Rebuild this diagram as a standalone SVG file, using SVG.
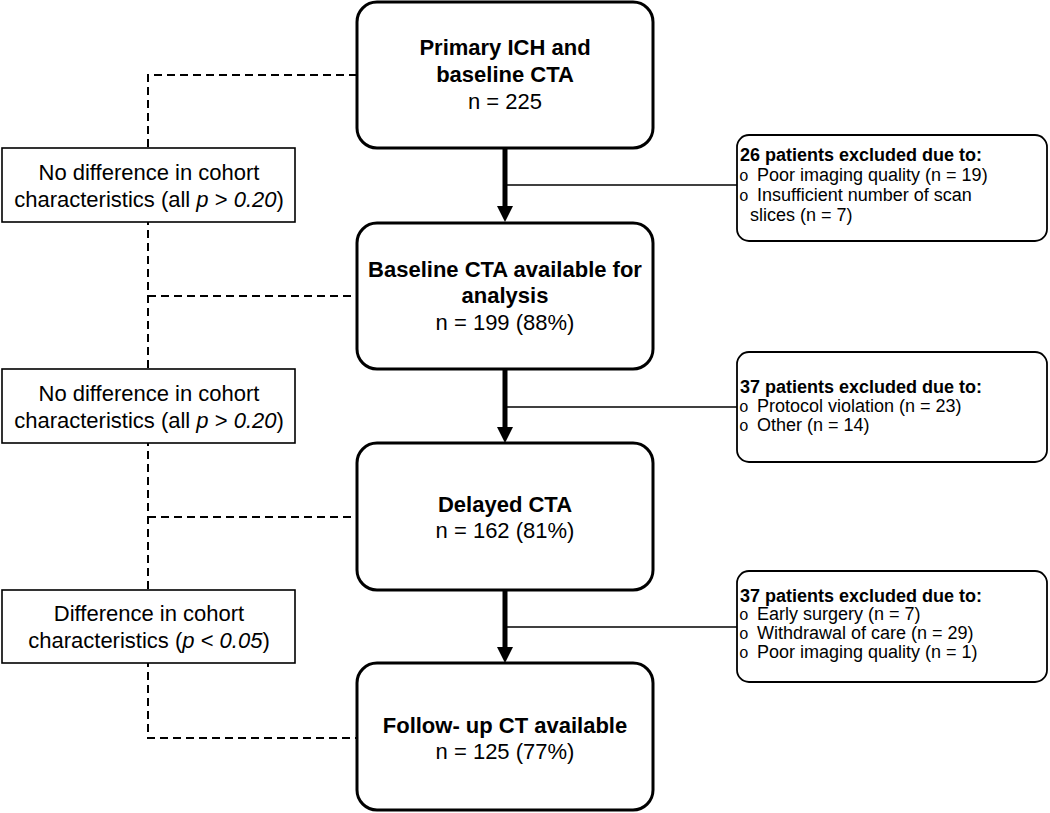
<svg xmlns="http://www.w3.org/2000/svg" width="1050" height="813" viewBox="0 0 1050 813">
<style>
text{font-family:"Liberation Sans",Arial,sans-serif;fill:#000}
.main{fill:#fff;stroke:#000;stroke-width:3}
.side{fill:#fff;stroke:#000;stroke-width:1.6}
.excl{fill:#fff;stroke:#000;stroke-width:1.8}
.t22{font-size:22px;text-anchor:middle}
.b{font-weight:bold}
.t18{font-size:18px}
.bul{font-family:"Liberation Mono","Courier New",monospace;font-size:16px}
.dash{fill:none;stroke:#000;stroke-width:2;stroke-dasharray:8 5}
.thin{fill:none;stroke:#000;stroke-width:1.5}
.shaft{fill:none;stroke:#000;stroke-width:5}
</style>
<g id="connectors">
<path class="dash" d="M357 75 H148 V738 H357"/>
<path class="dash" d="M148 296 H357"/>
<path class="dash" d="M148 517 H357"/>
<line class="shaft" x1="505" y1="148" x2="505" y2="208"/>
<polygon points="497,206 513,206 505,222"/>
<line class="thin" x1="505" y1="185" x2="737" y2="185"/>
<line class="shaft" x1="505" y1="369" x2="505" y2="429"/>
<polygon points="497,427 513,427 505,443"/>
<line class="thin" x1="505" y1="407" x2="737" y2="407"/>
<line class="shaft" x1="505" y1="590" x2="505" y2="649"/>
<polygon points="497,647 513,647 505,663"/>
<line class="thin" x1="505" y1="627" x2="737" y2="627"/>
</g>
<g id="n1">
<rect class="main" x="357" y="2" width="296" height="146" rx="20"/>
<text class="t22 b" x="505" y="55">Primary ICH and</text>
<text class="t22 b" x="505" y="82">baseline CTA</text>
<text class="t22" x="505" y="109">n = 225</text>
</g>
<g id="n2">
<rect class="main" x="357" y="223" width="296" height="146" rx="20"/>
<text class="t22 b" x="505" y="277">Baseline CTA available for</text>
<text class="t22 b" x="505" y="303">analysis</text>
<text class="t22" x="505" y="330">n = 199 (88%)</text>
</g>
<g id="n3">
<rect class="main" x="357" y="443" width="296" height="147" rx="20"/>
<text class="t22 b" x="505" y="512">Delayed CTA</text>
<text class="t22" x="505" y="538">n = 162 (81%)</text>
</g>
<g id="n4">
<rect class="main" x="357" y="663" width="296" height="147" rx="20"/>
<text class="t22 b" x="505" y="733">Follow- up CT available</text>
<text class="t22" x="505" y="759">n = 125 (77%)</text>
</g>
<g id="s1">
<rect class="side" x="2" y="148" width="293" height="74"/>
<text class="t22" x="149" y="180">No difference in cohort</text>
<text class="t22" x="149" y="207">characteristics (all <tspan font-style="italic">p</tspan> &gt; <tspan font-style="italic">0.20</tspan>)</text>
</g>
<g id="s2">
<rect class="side" x="2" y="369" width="293" height="74"/>
<text class="t22" x="149" y="401">No difference in cohort</text>
<text class="t22" x="149" y="428">characteristics (all <tspan font-style="italic">p</tspan> &gt; <tspan font-style="italic">0.20</tspan>)</text>
</g>
<g id="s3">
<rect class="side" x="2" y="590" width="293" height="73"/>
<text class="t22" x="149" y="621">Difference in cohort</text>
<text class="t22" x="149" y="648">characteristics (<tspan font-style="italic">p</tspan> &lt; <tspan font-style="italic">0.05</tspan>)</text>
</g>
<g id="e1">
<rect class="excl" x="737" y="135" width="310" height="106" rx="12"/>
<text class="t18 b" x="740" y="161">26 patients excluded due to:</text>
<text class="bul" x="739" y="181">o</text><text class="t18" x="757" y="181">Poor imaging quality (n = 19)</text>
<text class="bul" x="739" y="201">o</text><text class="t18" x="757" y="201">Insufficient number of scan</text>
<text class="t18" x="750" y="221">slices (n = 7)</text>
</g>
<g id="e2">
<rect class="excl" x="737" y="352" width="310" height="110" rx="12"/>
<text class="t18 b" x="740" y="393">37 patients excluded due to:</text>
<text class="bul" x="739" y="412">o</text><text class="t18" x="757" y="412">Protocol violation (n = 23)</text>
<text class="bul" x="739" y="431">o</text><text class="t18" x="757" y="431">Other (n = 14)</text>
</g>
<g id="e3">
<rect class="excl" x="737" y="571" width="310" height="111" rx="12"/>
<text class="t18 b" x="740" y="602">37 patients excluded due to:</text>
<text class="bul" x="739" y="620">o</text><text class="t18" x="757" y="620">Early surgery (n = 7)</text>
<text class="bul" x="739" y="639">o</text><text class="t18" x="757" y="639">Withdrawal of care (n = 29)</text>
<text class="bul" x="739" y="658">o</text><text class="t18" x="757" y="658">Poor imaging quality (n = 1)</text>
</g>
</svg>
